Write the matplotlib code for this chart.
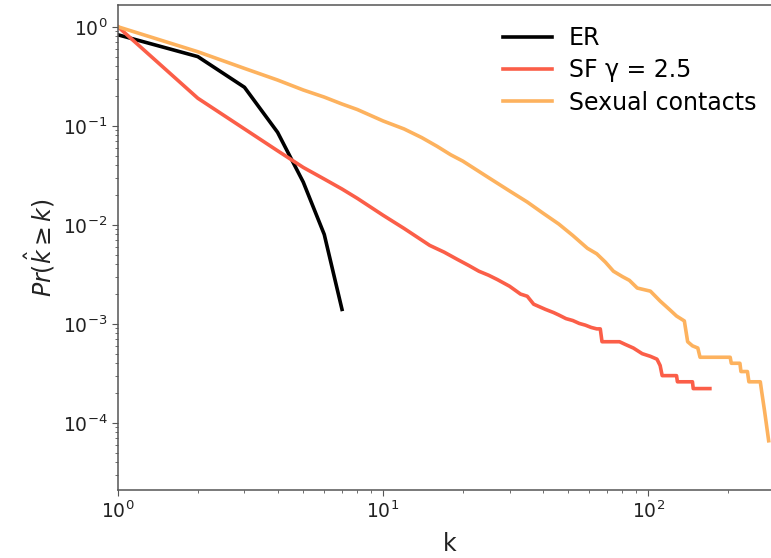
import matplotlib
matplotlib.use("Agg")
import matplotlib.pyplot as plt

# Complementary cumulative degree distributions Pr(k_hat >= k)
er_k = [1, 2, 3, 4, 5, 6, 7]
er_p = [0.83, 0.50, 0.245, 0.086, 0.027, 0.0080, 0.00140]

sf_k = [1, 2, 3, 4, 5, 6, 7, 8, 10, 12, 15, 17, 19, 21, 23, 25, 27, 30,
        33, 35, 37, 41, 44, 46, 49, 52, 55, 58, 61, 64, 66, 67, 78, 82,
        88, 95, 102, 108, 111, 113, 128, 129, 147, 148, 171]
sf_p = [1.0, 0.19, 0.093, 0.056, 0.038, 0.029, 0.023, 0.0185, 0.0125,
        0.0092, 0.0062, 0.0053, 0.0045, 0.0039, 0.0034, 0.0031, 0.0028,
        0.0024, 0.0020, 0.0019, 0.00158, 0.00140, 0.00130, 0.00123,
        0.00113, 0.00108, 0.00101, 0.00097, 0.00092, 0.00089, 0.00089,
        0.00066, 0.00066, 0.00062, 0.00057, 0.00050, 0.00047, 0.00044,
        0.00038, 0.00030, 0.00030, 0.00026, 0.00026, 0.000222, 0.000222]

sc_k = [1, 2, 3, 4, 5, 6, 7, 8, 10, 12, 14, 16, 18, 20, 25, 30, 35, 40,
        46, 52, 59, 64, 69, 74, 80, 85, 91, 102, 111, 121, 128, 137, 141,
        147, 154, 157, 204, 206, 222, 224, 237, 240, 265, 268, 275, 285]
sc_p = [1.0, 0.56, 0.38, 0.29, 0.23, 0.195, 0.166, 0.146, 0.112, 0.093,
        0.076, 0.062, 0.051, 0.044, 0.030, 0.022, 0.017, 0.0132, 0.0102,
        0.0078, 0.0058, 0.0051, 0.0042, 0.0034, 0.0030, 0.00275, 0.0023,
        0.00214, 0.0017, 0.00138, 0.0012, 0.00107, 0.00066, 0.0006,
        0.00057, 0.00046, 0.00046, 0.0004, 0.0004, 0.00033, 0.00033,
        0.00026, 0.00026, 0.00021, 0.000132, 0.000066]

labels = ["ER", "SF \u03b3 = 2.5", "Sexual contacts"]
colors = ["#000000", "#fb5e48", "#fdb25e"]

W, H = 771, 558
fig = plt.figure(figsize=(W / 100, H / 100), dpi=100)
ax = fig.add_axes([118 / W, (H - 490) / H, (782 - 118) / W, (490 - 5) / H])

for k, p, lab, c in zip([er_k, sf_k, sc_k], [er_p, sf_p, sc_p], labels, colors):
    ax.plot(k, p, color=c, lw=2.6, label=lab)

ax.set_xscale("log")
ax.set_yscale("log")
ax.set_xlim(1, 320)
ax.set_ylim(2.1e-5, 1.66)

for s in ax.spines.values():
    s.set_color("#555555")
    s.set_linewidth(1.1)
ax.tick_params(which="both", colors="#555555", labelcolor="#222222")
ax.tick_params(which="major", labelsize=13.5, length=4)
ax.tick_params(which="minor", length=2.5)

ax.set_xlabel("k", fontsize=17, color="#222222", labelpad=7)
ax.set_ylabel(r"$Pr(\hat{k} \geq k)$", fontsize=17, color="#222222")

ax.legend(loc="upper left", bbox_to_anchor=(0.640, 0.970),
          bbox_transform=fig.transFigure, frameon=False, fontsize=17,
          handlelength=2.1, handletextpad=0.7, labelspacing=0.35,
          borderaxespad=0)

fig.savefig("out.png", dpi=100)
